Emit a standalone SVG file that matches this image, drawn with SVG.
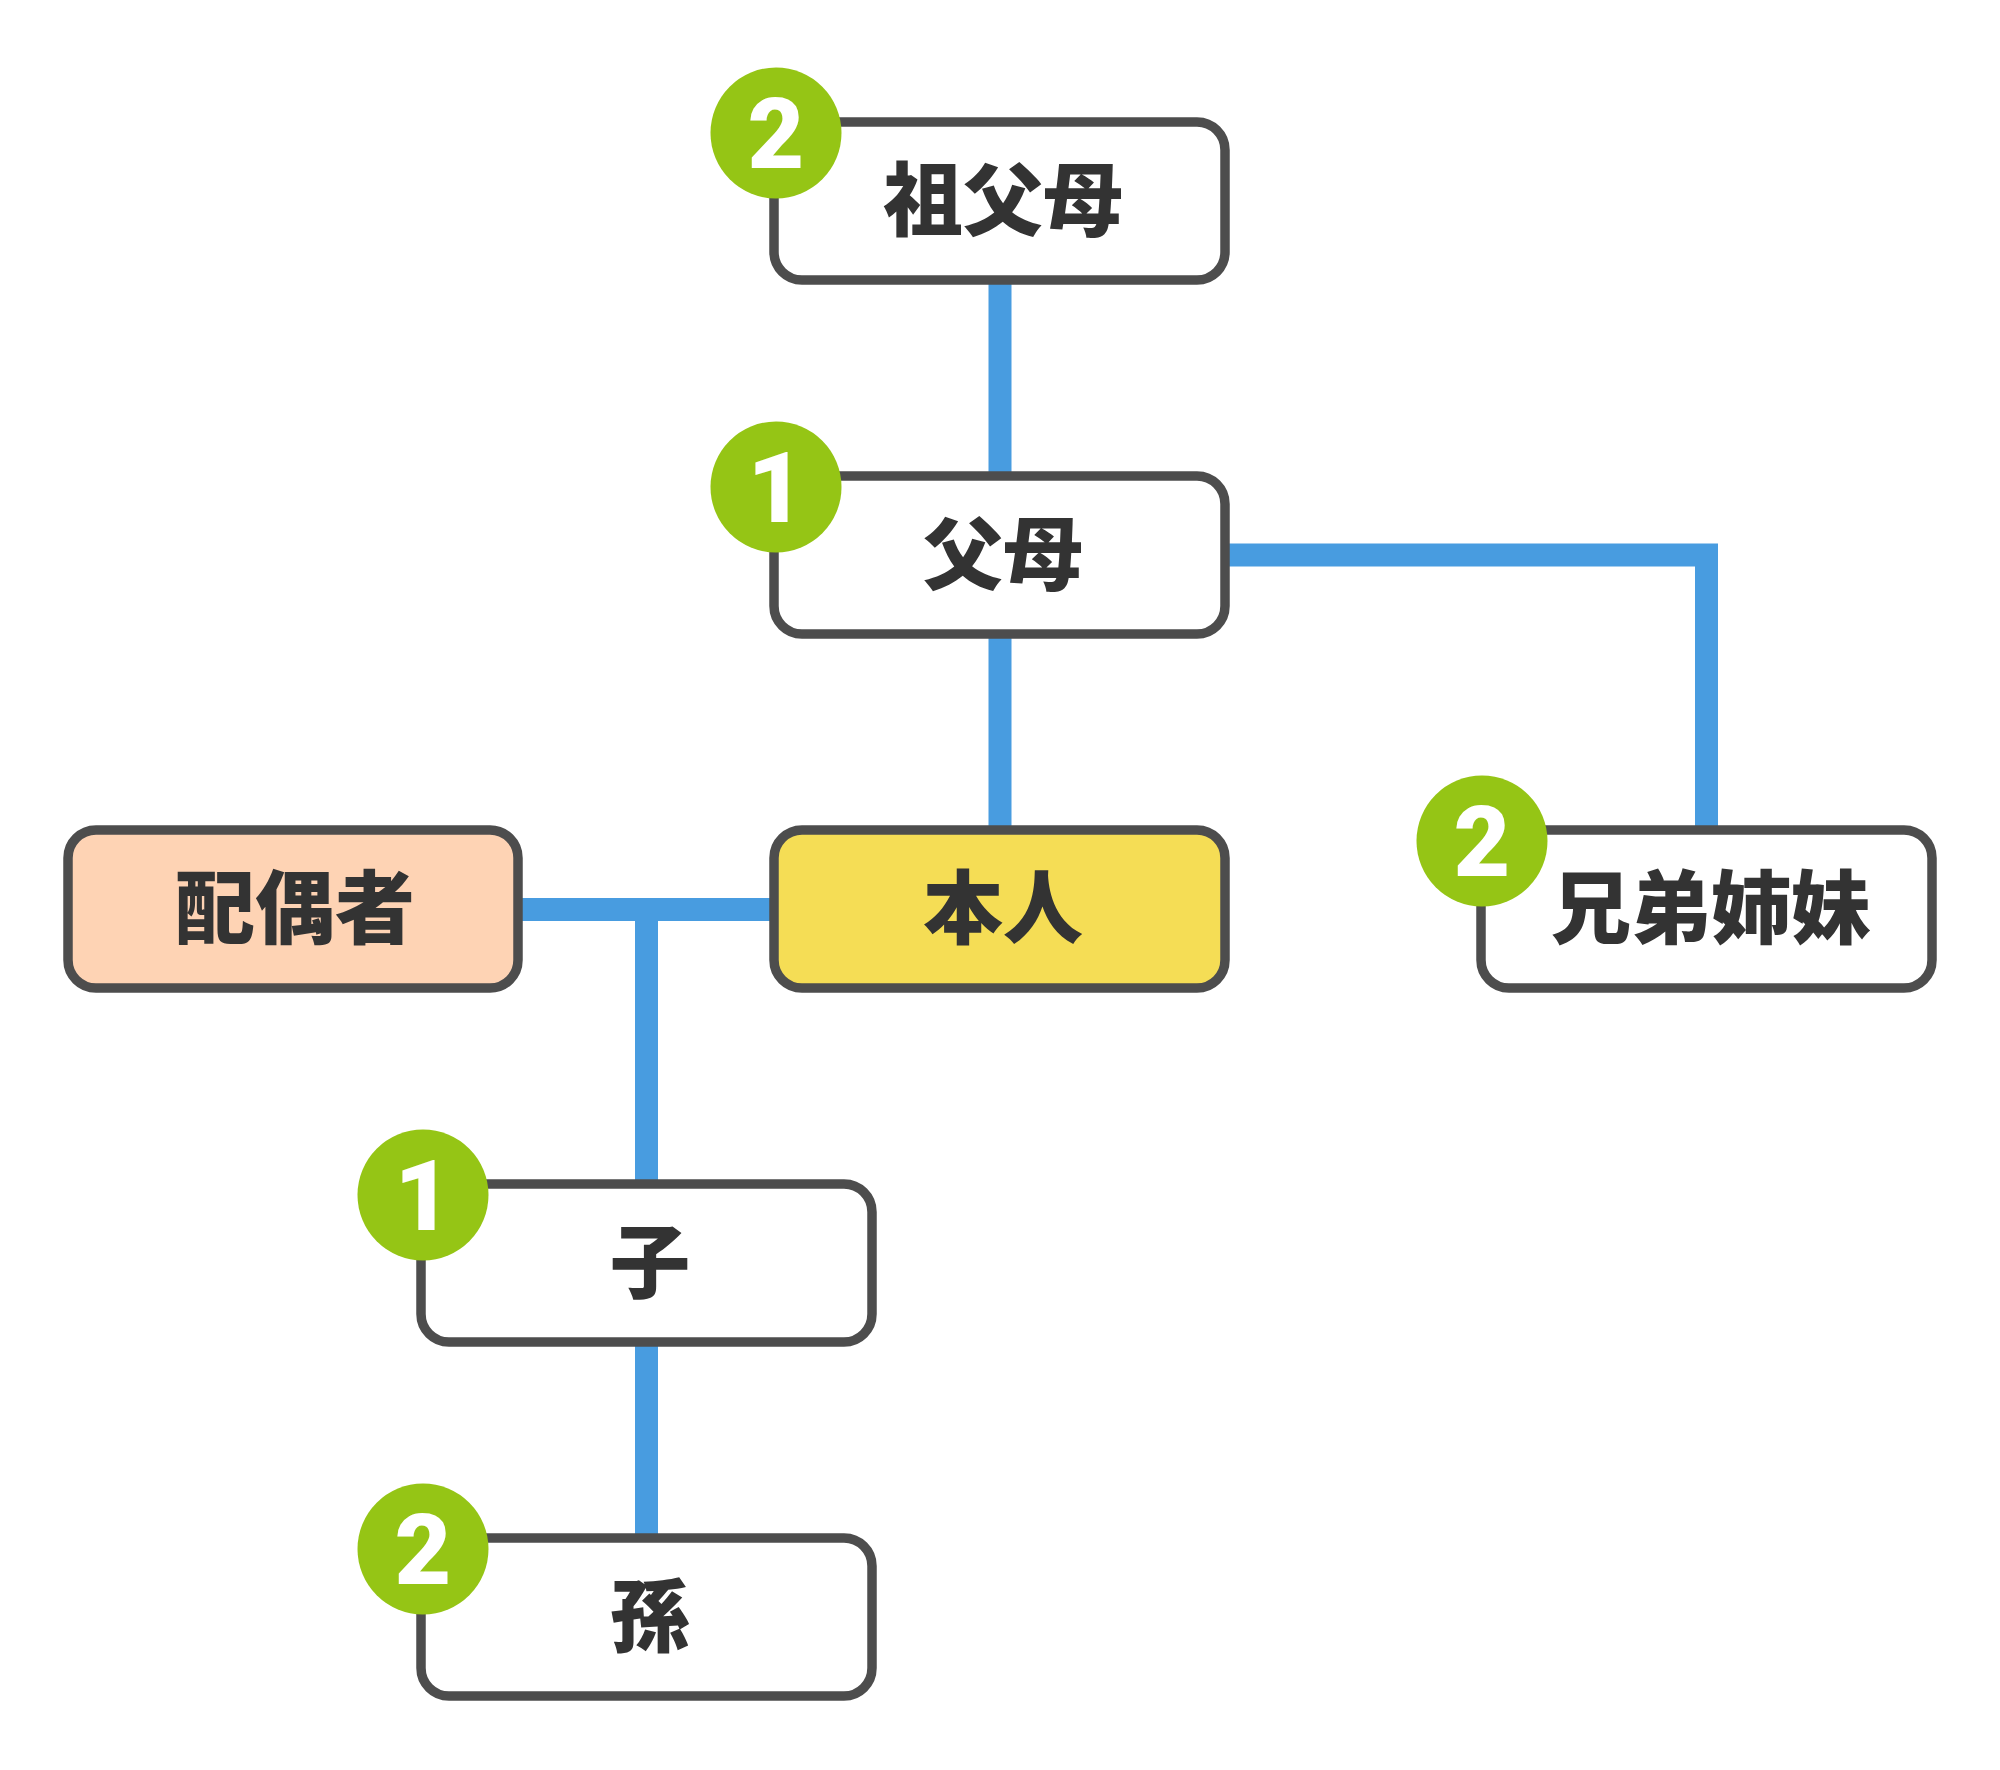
<svg xmlns="http://www.w3.org/2000/svg" width="2000" height="1770" viewBox="0 0 2000 1770">
<style>
.box{stroke:#4d4d4d;stroke-width:9.5;fill:#ffffff}
.lbl{font-family:"Noto Sans CJK JP","Noto Sans CJK SC",sans-serif;font-weight:900;font-size:80px;fill:#333333;text-anchor:middle;dominant-baseline:central}
.badge{fill:#95c515}
.num{font-family:Roboto,"Liberation Sans",Arial,sans-serif;font-weight:900;font-size:98px;fill:#ffffff;text-anchor:middle}
.con{stroke:#489ce0;stroke-width:23;fill:none}
</style>
<rect width="2000" height="1770" fill="#ffffff"/>
<g id="connectors">
<line class="con" x1="1000" y1="281" x2="1000" y2="476"/>
<line class="con" x1="1000" y1="634" x2="1000" y2="830"/>
<polyline class="con" points="1225,555 1706.5,555 1706.5,830"/>
<line class="con" x1="518" y1="909.5" x2="774" y2="909.5"/>
<line class="con" x1="646.5" y1="909.5" x2="646.5" y2="1184"/>
<line class="con" x1="646.5" y1="1343" x2="646.5" y2="1538"/>
</g>
<g id="node-sofubo">
<rect class="box" x="774" y="122" width="451" height="158" rx="28"/>
<text class="lbl" x="1003" y="194">祖父母</text>
<circle class="badge" cx="776" cy="133" r="65.5"/>
<text class="num" x="776" y="168">2</text>
</g>
<g id="node-fubo">
<rect class="box" x="774" y="476" width="451" height="158" rx="28"/>
<text class="lbl" x="1003" y="548">父母</text>
<circle class="badge" cx="776" cy="487" r="65.5"/>
<text class="num" x="776" y="522">1</text>
</g>
<g id="node-haigusha">
<rect class="box" x="68" y="830" width="450" height="158" rx="28" style="fill:#fed3b4"/>
<text class="lbl" x="295" y="902">配偶者</text>
</g>
<g id="node-honnin">
<rect class="box" x="774" y="830" width="451" height="158" rx="28" style="fill:#f5dd55"/>
<text class="lbl" x="1003" y="902">本人</text>
</g>
<g id="node-kyoudai">
<rect class="box" x="1481" y="830" width="451" height="158" rx="28"/>
<text class="lbl" x="1711" y="902">兄弟姉妹</text>
<circle class="badge" cx="1482" cy="841" r="65.5"/>
<text class="num" x="1482" y="876">2</text>
</g>
<g id="node-ko">
<rect class="box" x="421" y="1184" width="451" height="158" rx="28"/>
<text class="lbl" x="650" y="1256">子</text>
<circle class="badge" cx="423" cy="1195" r="65.5"/>
<text class="num" x="423" y="1230">1</text>
</g>
<g id="node-mago">
<rect class="box" x="421" y="1538" width="451" height="158" rx="28"/>
<text class="lbl" x="650" y="1610">孫</text>
<circle class="badge" cx="423" cy="1549" r="65.5"/>
<text class="num" x="423" y="1584">2</text>
</g>
</svg>
